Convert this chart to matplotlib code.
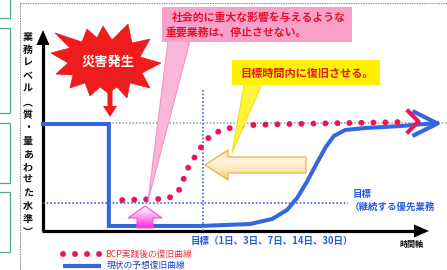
import numpy as np
import matplotlib
matplotlib.use('Agg')
import matplotlib.pyplot as plt
from matplotlib.patches import Polygon, Rectangle, FancyArrow
from matplotlib.path import Path
from matplotlib.markers import MarkerStyle
from matplotlib.colors import LinearSegmentedColormap

plt.rcParams['font.family'] = ['Noto Sans CJK JP', 'DejaVu Sans']

# ---------------- data (time 0-100, business level: normal = 100) ----------------
time_current = [0, 16.3, 16.3, 38.9, 51.2, 56.7, 60.4, 62.9, 65.3, 67.8, 70.0, 72.0, 74.8, 79.7, 88.4, 97.5]
level_current = [98.2, 98.2, 4.6, 4.6, 6.4, 11.0, 19.3, 30.3, 45.0, 62.4, 77.1, 87.2, 92.7, 94.5, 96.3, 99.1]

time_bcp = [19.6, 28.7, 31.9, 33.9, 34.9, 36.1, 37.9, 39.6, 41.6, 44.3, 47.3, 51.2, 61.1, 89.6]
level_bcp = [28.4, 29.4, 31.2, 38.5, 48.6, 59.6, 69.7, 79.8, 88.1, 92.7, 95.4, 97.2, 98.2, 100.0]
bcp_arrow_tip = (92.8, 100.5)

disaster_time = 16.3
normal_level = 99.1
target_time = 39.6
target_level = 25.7
target_level_end = 75.5
target_time_top = 129.4

ylabel_chars = ['業', '務', 'レ', 'ベ', 'ル', '︵', '質', '・', '量', 'あ', 'わ', 'せ', 'た', '水', '準', '︶']
disaster_text = '災害発生'
pink_lines = ['社会的に重大な影響を与えるような', '重要業務は、停止させない。']
yellow_text = '目標時間内に復旧させる。'
target_time_text = '目標（1日、3日、7日、14日、30日）'
target_level_text = ['目標', '（継続する優先業務']
xlabel_text = '時間軸'
legend_labels = ['BCP実践後の復旧曲線', '現状の予想復旧曲線']

RED = '#e8175d'
BLUE = '#3366e0'
TBLUE = '#2b5bd8'

W, H = 447, 270
fig = plt.figure(figsize=(W / 100, H / 100), dpi=100)
ov = fig.add_axes([0, 0, 1, 1])
ov.set_axis_off()
ch = fig.add_axes([43 / W, (H - 231) / H, (W - 43) / W, (231 - 33) / H])
ch.set_xlim(0, 100)
ch.set_ylim(0, 181.7)
ch.set_axis_off()
ch.patch.set_visible(False)
T = ch.transData

# ---------------- frame decorations ----------------
for (y0, y1) in [(-5, 18), (28, 113), (123, 183), (192, 252)]:
    ov.add_patch(Rectangle((-5, y0), 15, y1 - y0, fill=False, ec='#4caf7f', lw=0.9))
ov.plot([20, 20], [3, 270], color='#8a8a8a', lw=0.7, ls=(0, (1.5, 1)))
ov.plot([20, 447], [3, 3], color='#8a8a8a', lw=0.7, ls=(0, (1.5, 1)))

# axes arrows
ov.plot([43, 43], [231, 42], color='black', lw=2.3, solid_capstyle='butt')
ov.add_patch(Polygon([(43, 30), (36.5, 45), (49.5, 45)], closed=True, fc='black', ec='none'))
ov.plot([42, 416], [231, 231], color='black', lw=2.3, solid_capstyle='butt')
ov.add_patch(Polygon([(429, 231), (414, 224.5), (414, 237.5)], closed=True, fc='black', ec='none'))

# y label (vertical writing)
for i, c in enumerate(ylabel_chars):
    ov.text(28, 37 + 13 * i, c, fontsize=7.2, fontweight='bold', ha='center', va='center', color='#111111')

ov.text(411, 245, xlabel_text, fontsize=5.8, fontweight='bold', ha='center', va='center', color='#111111')

# ---------------- reference lines ----------------
ov.plot([disaster_time, 100], [normal_level, normal_level], transform=T, color='#9a9a9a', lw=1.1, ls=(0, (1, 1.2)))
ov.plot([0, target_level_end], [target_level, target_level], transform=T, color='#4466d0', lw=1.2, ls=(0, (1, 1.2)))
ov.plot([target_time, target_time], [0, target_time_top], transform=T, color='#4466d0', lw=1.2, ls=(0, (1, 1.2)))

# ---------------- curves ----------------
ov.plot(time_current, level_current, transform=T, color=BLUE, lw=2.9, solid_joinstyle='miter', zorder=3)
chev_b = MarkerStyle(Path([(-2, 1), (0, 0), (-2, -1)], [Path.MOVETO, Path.LINETO, Path.LINETO]), fillstyle='none')
ov.plot(time_current[-1:], level_current[-1:], transform=T, marker=chev_b, ms=36, mec=BLUE, mew=3.0,
        ls='none', zorder=3)

ov.plot(time_bcp, level_bcp, transform=T, color=RED, lw=4.3, ls=(0, (0.01, 2.0)),
        dash_capstyle='round', zorder=4)
chev_r = MarkerStyle(Path([(-1, 1), (0, 0), (-1, -1)], [Path.MOVETO, Path.LINETO, Path.LINETO]), fillstyle='none')
ov.plot([bcp_arrow_tip[0]], [bcp_arrow_tip[1]], transform=T, marker=chev_r, ms=17, mec=RED, mew=3.0,
        ls='none', zorder=4)

# ---------------- target labels ----------------
ov.text(191, 241, target_time_text, fontsize=6.8, fontweight='bold', color=TBLUE, ha='left', va='center')
ov.text(353, 194, target_level_text[0], fontsize=6.8, fontweight='bold', color=TBLUE, ha='left', va='center')
ov.text(350, 207, target_level_text[1], fontsize=6.8, fontweight='bold', color=TBLUE, ha='left', va='center')

# ---------------- legend ----------------
ov.plot([63, 100], [254, 254], color=RED, lw=4.3, ls=(0, (0.01, 2.0)), dash_capstyle='round')
ov.text(105, 254, legend_labels[0], fontsize=6.3, color='#e8303a', ha='left', va='center')
ov.plot([63, 101], [265.5, 265.5], color=BLUE, lw=3.0, solid_capstyle='butt')
ov.text(107, 265.5, legend_labels[1], fontsize=6.3, color='#2040c0', ha='left', va='center')

# ---------------- disaster starburst ----------------
star = [(55, 33), (82, 42), (87, 29), (97, 38), (103, 26), (112, 40), (128, 24), (132, 43), (150, 39),
        (140, 57), (161, 63), (142, 73), (150, 88), (130, 83), (127, 98), (117, 87), (108, 93), (100, 87),
        (90, 96), (85, 83), (70, 88), (73, 75), (56, 74), (68, 63), (51, 53), (70, 48)]
ov.add_patch(Polygon(star, closed=True, fc='#ee1c1c', ec='#ee1c1c', lw=0.5, zorder=5))
ov.text(108, 62, disaster_text, fontsize=9.5, fontweight='bold', color='white', ha='center', va='center', zorder=6)
ov.add_patch(FancyArrow(110, 86, 0, 31, width=5, head_width=14, head_length=11, length_includes_head=True,
                        fc='#ee1c1c', ec='none', zorder=5))

# ---------------- pink callout ----------------
ov.add_patch(Polygon([(168, 41), (190, 41), (148, 201)], closed=True, fc='#f9b6d6', ec='#f08cc0', lw=0.7, zorder=6))
ov.add_patch(Rectangle((162, 7), 190, 35, fc='#f7a1c9', ec='none', zorder=6))
ov.text(172, 17.5, pink_lines[0], fontsize=7.8, fontweight='bold', color='#e4102e', ha='left', va='center', zorder=7)
ov.text(165, 32, pink_lines[1], fontsize=7.8, fontweight='bold', color='#e4102e', ha='left', va='center', zorder=7)

# pink up arrow (gradient)
up = Polygon([(145, 206), (162, 218), (153, 218), (153, 228), (137, 228), (137, 218), (128, 218)],
             closed=True, fc='none', ec='#ee55d5', lw=0.8, zorder=6)
ov.add_patch(up)
cm_p = LinearSegmentedColormap.from_list('p', ['#ffffff', '#ff99ee', '#ff22dd'])
im = ov.imshow(np.linspace(0, 1, 50).reshape(-1, 1), extent=[127, 163, 228, 206], cmap=cm_p,
               aspect='auto', zorder=5.9)
im.set_clip_path(up)

# ---------------- yellow callout ----------------
ov.add_patch(Polygon([(244, 84), (262, 84), (232, 153)], closed=True, fc='#fff23a', ec='#eedd00', lw=0.6, zorder=6))
ov.add_patch(Rectangle((232, 60), 148, 25, fc='#fff200', ec='none', zorder=6))
ov.text(240, 73, yellow_text, fontsize=8, fontweight='bold', color='#e0182a', ha='left', va='center', zorder=7)

# yellow left arrow (gradient)
la = Polygon([(205, 165), (228, 150), (228, 157), (306, 157), (306, 173), (228, 173), (228, 180)],
             closed=True, fc='none', ec='#f0b048', lw=0.9, zorder=6)
ov.add_patch(la)
cm_y = LinearSegmentedColormap.from_list('y', ['#fbd98e', '#fff6e0', '#fde7b8', '#f6c15e'])
im2 = ov.imshow(np.linspace(0, 1, 50).reshape(-1, 1), extent=[204, 307, 181, 149], cmap=cm_y,
                aspect='auto', zorder=5.9)
im2.set_clip_path(la)

ov.set_xlim(0, W)
ov.set_ylim(H, 0)
fig.savefig('out.png', dpi=100)
